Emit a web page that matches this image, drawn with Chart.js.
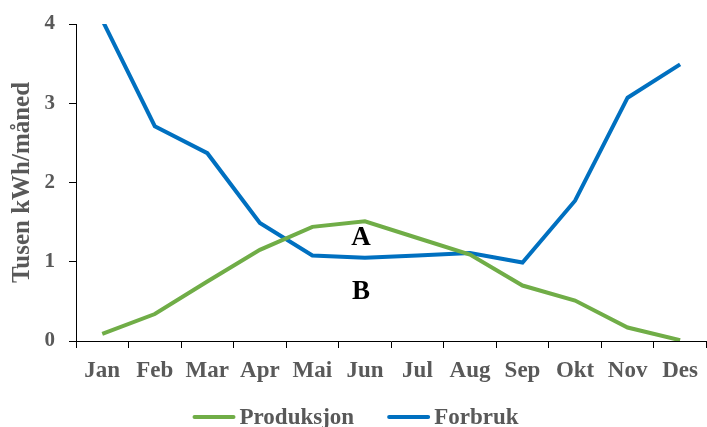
<!DOCTYPE html>
<html>
<head>
<meta charset="utf-8">
<script src="https://cdn.jsdelivr.net/npm/chart.js@4/dist/chart.umd.min.js"></script>
<style>
  html, body { margin: 0; padding: 0; background: #ffffff; }
  #wrap { width: 707px; height: 427px; }
</style>
</head>
<body>
<div id="wrap"><canvas id="c" width="707" height="427"></canvas></div>
<script>
// Months
const months = ['Jan', 'Feb', 'Mar', 'Apr', 'Mai', 'Jun', 'Jul', 'Aug', 'Sep', 'Okt', 'Nov', 'Des'];
// Monthly solar production, thousand kWh
const produksjon = [0.09, 0.34, 0.75, 1.15, 1.44, 1.51, 1.30, 1.09, 0.70, 0.51, 0.17, 0.01];
// Monthly consumption, thousand kWh
const forbruk = [4.05, 2.71, 2.37, 1.49, 1.08, 1.05, 1.08, 1.11, 0.99, 1.77, 3.07, 3.49];
// Region labels placed between the curves
const regionLabels = [
  { text: 'A', month: 'Jun', value: 1.30 },
  { text: 'B', month: 'Jun', value: 0.62 }
];

const serif = '"Liberation Serif", "Times New Roman", serif';
const grey = '#595959';

const regionLabelPlugin = {
  id: 'regionLabels',
  afterDatasetsDraw(chart) {
    const { ctx, scales } = chart;
    ctx.save();
    ctx.font = 'bold 27px ' + serif;
    ctx.fillStyle = '#000000';
    ctx.textAlign = 'center';
    ctx.textBaseline = 'middle';
    regionLabels.forEach(l => {
      const x = scales.x.getPixelForValue(months.indexOf(l.month)) - 4;
      const y = scales.y.getPixelForValue(l.value);
      ctx.fillText(l.text, x, y);
    });
    ctx.restore();
  }
};

// Legend row under the axis: short line sample followed by the series name
const lineLegendPlugin = {
  id: 'lineLegend',
  afterDraw(chart) {
    const { ctx } = chart;
    const sample = 43, textGap = 4, itemGap = 33;
    const y = chart.height - 10;
    ctx.save();
    ctx.font = 'bold 23px ' + serif;
    ctx.textBaseline = 'middle';
    ctx.textAlign = 'left';
    const items = chart.data.datasets.map(ds => ({
      label: ds.label,
      color: ds.borderColor,
      w: sample + textGap + ctx.measureText(ds.label).width
    }));
    const total = items.reduce((s, it) => s + it.w, 0) + itemGap * (items.length - 1);
    let x = chart.width / 2 + 2 - total / 2;
    items.forEach(it => {
      ctx.strokeStyle = it.color;
      ctx.lineWidth = 4;
      ctx.lineCap = 'round';
      ctx.beginPath();
      ctx.moveTo(x + 2, y);
      ctx.lineTo(x + sample - 2, y);
      ctx.stroke();
      ctx.fillStyle = grey;
      ctx.fillText(it.label, x + sample + textGap, y + 1);
      x += it.w + itemGap;
    });
    ctx.restore();
  }
};

new Chart(document.getElementById('c'), {
  type: 'line',
  data: {
    labels: months,
    datasets: [
      {
        label: 'Produksjon',
        data: produksjon,
        borderColor: '#70AD47',
        backgroundColor: '#70AD47',
        borderWidth: 4,
        pointRadius: 0,
        tension: 0
      },
      {
        label: 'Forbruk',
        data: forbruk,
        borderColor: '#0070C0',
        backgroundColor: '#0070C0',
        borderWidth: 4,
        pointRadius: 0,
        tension: 0,
        clip: { left: false, top: 0, right: false, bottom: false }
      }
    ]
  },
  options: {
    responsive: false,
    devicePixelRatio: 1,
    animation: false,
    layout: { padding: { top: 24, right: 0, left: 0, bottom: 42 } },
    plugins: {
      tooltip: { enabled: false },
      legend: { display: false }
    },
    scales: {
      x: {
        offset: true,
        afterFit(scale) { scale.height = 44; },
        border: { color: '#000000', width: 1 },
        grid: {
          offset: true,
          drawOnChartArea: false,
          drawTicks: true,
          tickLength: 7,
          color: '#000000'
        },
        ticks: {
          color: grey,
          padding: 9,
          maxRotation: 0,
          autoSkip: false,
          font: { family: serif, size: 23, weight: 'bold' }
        }
      },
      y: {
        min: 0,
        max: 4,
        afterFit(scale) {
          scale.width = 76;
          scale.paddingTop = 0;
          scale.paddingBottom = 0;
        },
        border: { color: '#000000', width: 1 },
        grid: {
          drawOnChartArea: false,
          drawTicks: true,
          tickLength: 7,
          color: '#000000'
        },
        ticks: {
          stepSize: 1,
          color: grey,
          padding: 14,
          font: { family: serif, size: 21, weight: 'bold' }
        },
        title: {
          display: true,
          text: 'Tusen kWh/måned',
          color: grey,
          padding: { top: 8, bottom: 0 },
          font: { family: serif, size: 25, weight: 'bold' }
        }
      }
    }
  },
  plugins: [regionLabelPlugin, lineLegendPlugin]
});
</script>
</body>
</html>
